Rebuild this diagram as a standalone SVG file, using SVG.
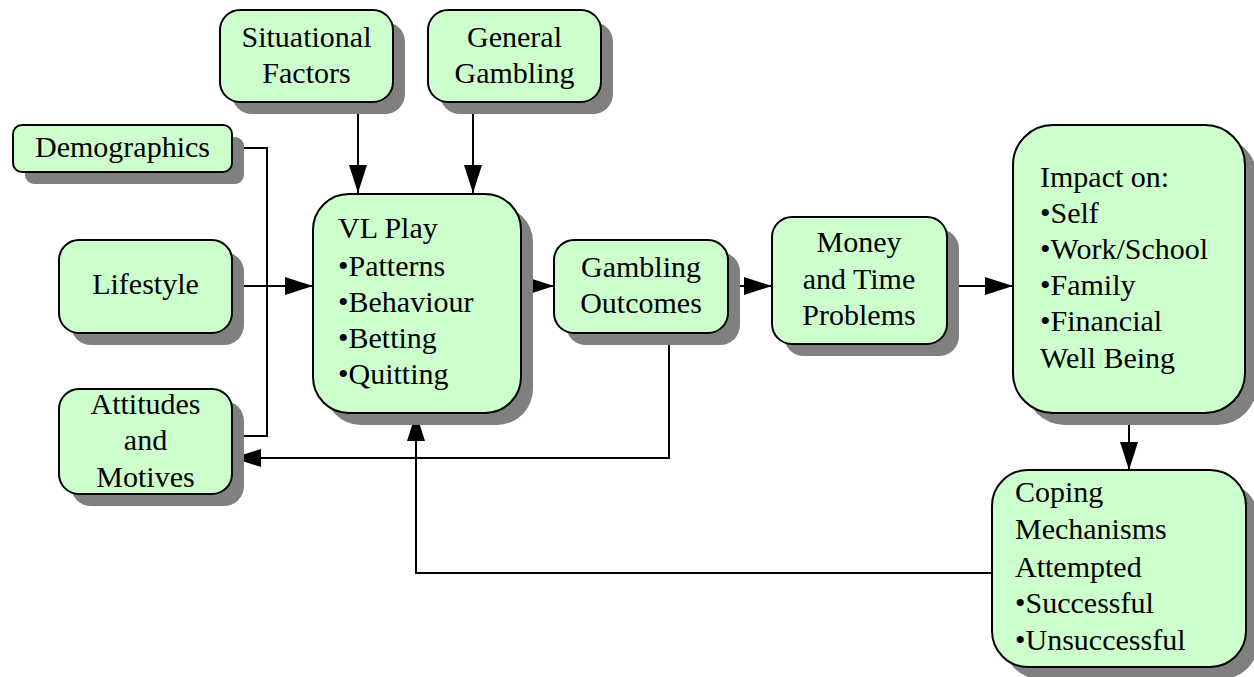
<svg xmlns="http://www.w3.org/2000/svg" width="1254" height="677" viewBox="0 0 1254 677">
<style>
.sh{fill:#808080;stroke:none}
.bx{fill:#CCFFCC;stroke:#000;stroke-width:2}
.t{font-family:"Liberation Serif","Times New Roman",serif;font-size:30px;fill:#000}
.c{text-anchor:middle}
.ln{fill:none;stroke:#000;stroke-width:2}
</style>
<defs>
<marker id="ah" markerUnits="userSpaceOnUse" markerWidth="28" markerHeight="18" refX="28" refY="9" orient="auto">
<path d="M0,0 L28,9 L0,18 Z" fill="#000"/>
</marker>
</defs>
<rect width="1254" height="677" fill="#fff"/>

<g id="connectors">
<polyline class="ln" points="232,148 267,148 267,436 232,436"/>
<line class="ln" x1="232" y1="286" x2="313" y2="286" marker-end="url(#ah)"/>
<line class="ln" x1="358" y1="102" x2="358" y2="193" marker-end="url(#ah)"/>
<line class="ln" x1="473" y1="102" x2="473" y2="193" marker-end="url(#ah)"/>
<line class="ln" x1="521" y1="286" x2="554" y2="286" marker-end="url(#ah)"/>
<line class="ln" x1="728" y1="286" x2="772" y2="286" marker-end="url(#ah)"/>
<line class="ln" x1="947" y1="286" x2="1013" y2="286" marker-end="url(#ah)"/>
<line class="ln" x1="1129" y1="413" x2="1129" y2="470" marker-end="url(#ah)"/>
<polyline class="ln" points="669,333 669,458 233,458" marker-end="url(#ah)"/>
<polyline class="ln" points="992,573 416,573 416,413" marker-end="url(#ah)"/>
</g>

<g id="demographics">
<rect class="sh" x="25" y="137" width="219" height="47" rx="9"/>
<rect class="bx" x="13" y="125" width="219" height="47" rx="9"/>
<text class="t c" x="122.5" y="157">Demographics</text>
</g>

<g id="lifestyle">
<rect class="sh" x="71" y="252" width="173" height="93" rx="20"/>
<rect class="bx" x="59" y="240" width="173" height="93" rx="20"/>
<text class="t c" x="145.5" y="294">Lifestyle</text>
</g>

<g id="attitudes">
<rect class="sh" x="71" y="401" width="173" height="105" rx="20"/>
<rect class="bx" x="59" y="389" width="173" height="105" rx="20"/>
<text class="t c" x="145.5" y="414">Attitudes</text>
<text class="t c" x="145.5" y="450">and</text>
<text class="t c" x="145.5" y="487">Motives</text>
</g>

<g id="situational">
<rect class="sh" x="232" y="22" width="173" height="92" rx="20"/>
<rect class="bx" x="220" y="10" width="173" height="92" rx="20"/>
<text class="t c" x="306.5" y="47">Situational</text>
<text class="t c" x="306.5" y="83">Factors</text>
</g>

<g id="general">
<rect class="sh" x="440" y="22" width="173" height="92" rx="20"/>
<rect class="bx" x="428" y="10" width="173" height="92" rx="20"/>
<text class="t c" x="514.5" y="47">General</text>
<text class="t c" x="514.5" y="83">Gambling</text>
</g>

<g id="vlplay">
<rect class="sh" x="325" y="206" width="208" height="219" rx="36"/>
<rect class="bx" x="313" y="194" width="208" height="219" rx="36"/>
<text class="t" x="338" y="238">VL Play</text>
<text class="t" x="338" y="276">•Patterns</text>
<text class="t" x="338" y="312">•Behaviour</text>
<text class="t" x="338" y="348">•Betting</text>
<text class="t" x="338" y="384">•Quitting</text>
</g>

<g id="outcomes">
<rect class="sh" x="566" y="252" width="174" height="93" rx="20"/>
<rect class="bx" x="554" y="240" width="174" height="93" rx="20"/>
<text class="t c" x="641" y="277">Gambling</text>
<text class="t c" x="641" y="313">Outcomes</text>
</g>

<g id="money">
<rect class="sh" x="784" y="229" width="175" height="127" rx="20"/>
<rect class="bx" x="772" y="217" width="175" height="127" rx="20"/>
<text class="t c" x="859" y="252">Money</text>
<text class="t c" x="859" y="289">and Time</text>
<text class="t c" x="859" y="325">Problems</text>
</g>

<g id="impact">
<rect class="sh" x="1025" y="137" width="232" height="288" rx="40"/>
<rect class="bx" x="1013" y="125" width="232" height="288" rx="40"/>
<text class="t" x="1040" y="187">Impact on:</text>
<text class="t" x="1040" y="223">•Self</text>
<text class="t" x="1040" y="259">•Work/School</text>
<text class="t" x="1040" y="295">•Family</text>
<text class="t" x="1040" y="331">•Financial</text>
<text class="t" x="1040" y="368">Well Being</text>
</g>

<g id="coping">
<rect class="sh" x="1004" y="482" width="254" height="197" rx="36"/>
<rect class="bx" x="992" y="470" width="254" height="197" rx="36"/>
<text class="t" x="1015" y="502">Coping</text>
<text class="t" x="1015" y="539">Mechanisms</text>
<text class="t" x="1015" y="577">Attempted</text>
<text class="t" x="1015" y="613">•Successful</text>
<text class="t" x="1015" y="650">•Unsuccessful</text>
</g>
</svg>
